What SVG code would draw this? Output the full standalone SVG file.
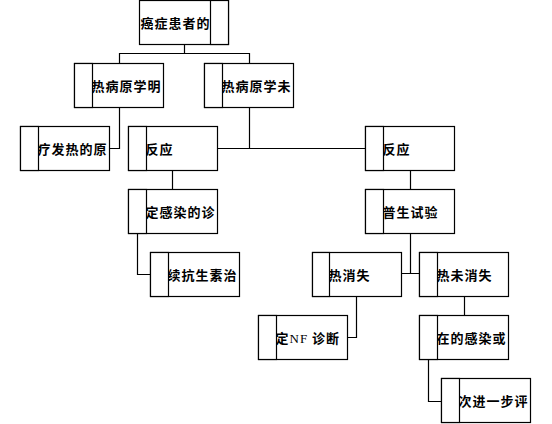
<svg xmlns="http://www.w3.org/2000/svg" width="552" height="424" viewBox="0 0 552 424">
<style>
.box{fill:#fff;stroke:#000;stroke-width:1.2}
.col{fill:#fff;stroke:#000;stroke-width:1.2}
.t{font-family:"Noto Sans CJK SC","Noto Sans",sans-serif;font-size:13px;font-weight:bold;letter-spacing:1px;fill:#000}
.s{font-family:"Liberation Serif",serif;font-weight:normal}
.c{fill:none;stroke:#000;stroke-width:1.2}
</style>
<rect width="552" height="424" fill="#fff"/>
<g id="connectors">
<path class="c" d="M184.5 44.5V53.5M119.5 63.5V53.5H249.5V63.5"/>
<path class="c" d="M119.5 107.5V148.5H109.5"/>
<path class="c" d="M249.5 107.5V148.5M217.5 148.5H365.5"/>
<path class="c" d="M410.5 170.5V189.5"/>
<path class="c" d="M410.5 233.5V273.5M401.5 273.5H419.5"/>
<path class="c" d="M172.5 170.5V189.5"/>
<path class="c" d="M137.5 233.5V274.5H150.5"/>
<path class="c" d="M356.5 296.5V337.5H347.5"/>
<path class="c" d="M464.5 296.5V315.5"/>
<path class="c" d="M428.5 359.5V401.5H441.5"/>
</g>
<g id="n1"><rect class="box" x="139.5" y="0.5" width="89" height="44"/><text class="t" x="140.5" y="27.5">癌症患者的</text><rect class="col" x="210.5" y="0.5" width="18" height="44"/></g>
<g id="n2"><rect class="box" x="74.5" y="63.5" width="89" height="44"/><text class="t" x="91.5" y="90.5">热病原学明</text><rect class="col" x="74.5" y="63.5" width="18" height="44"/></g>
<g id="n3"><rect class="box" x="204.5" y="63.5" width="89" height="44"/><text class="t" x="221.5" y="90.5">热病原学未</text><rect class="col" x="204.5" y="63.5" width="18" height="44"/></g>
<g id="n4"><rect class="box" x="20.5" y="126.5" width="89" height="44"/><text class="t" x="37.5" y="153.5">疗发热的原</text><rect class="col" x="20.5" y="126.5" width="18" height="44"/></g>
<g id="n5"><rect class="box" x="128.5" y="126.5" width="89" height="44"/><text class="t" x="145.5" y="153.5">反应</text><rect class="col" x="128.5" y="126.5" width="18" height="44"/></g>
<g id="n6"><rect class="box" x="365.5" y="126.5" width="89" height="44"/><text class="t" x="382.5" y="153.5">反应</text><rect class="col" x="365.5" y="126.5" width="18" height="44"/></g>
<g id="n7"><rect class="box" x="128.5" y="189.5" width="89" height="44"/><text class="t" x="145.5" y="216.5">定感染的诊</text><rect class="col" x="128.5" y="189.5" width="18" height="44"/></g>
<g id="n8"><rect class="box" x="365.5" y="189.5" width="89" height="44"/><text class="t" x="382.5" y="216.5">普生试验</text><rect class="col" x="365.5" y="189.5" width="18" height="44"/></g>
<g id="n9"><rect class="box" x="150.5" y="252.5" width="89" height="44"/><text class="t" x="167.5" y="279.5">续抗生素治</text><rect class="col" x="150.5" y="252.5" width="18" height="44"/></g>
<g id="n10"><rect class="box" x="312.5" y="252.5" width="89" height="44"/><text class="t" x="328.5" y="279.5">热消失</text><rect class="col" x="312.5" y="252.5" width="17" height="44"/></g>
<g id="n11"><rect class="box" x="419.5" y="252.5" width="89" height="44"/><text class="t" x="436.5" y="279.5">热未消失</text><rect class="col" x="419.5" y="252.5" width="18" height="44"/></g>
<g id="n12"><rect class="box" x="258.5" y="315.5" width="89" height="44"/><text class="t" x="275.5" y="342.5">定<tspan class="s">NF</tspan> 诊断</text><rect class="col" x="258.5" y="315.5" width="18" height="44"/></g>
<g id="n13"><rect class="box" x="419.5" y="315.5" width="89" height="44"/><text class="t" x="436.5" y="342.5">在的感染或</text><rect class="col" x="419.5" y="315.5" width="18" height="44"/></g>
<g id="n14"><rect class="box" x="441.5" y="378.5" width="89" height="44"/><text class="t" x="458.5" y="405.5">次进一步评</text><rect class="col" x="441.5" y="378.5" width="18" height="44"/></g>
</svg>
